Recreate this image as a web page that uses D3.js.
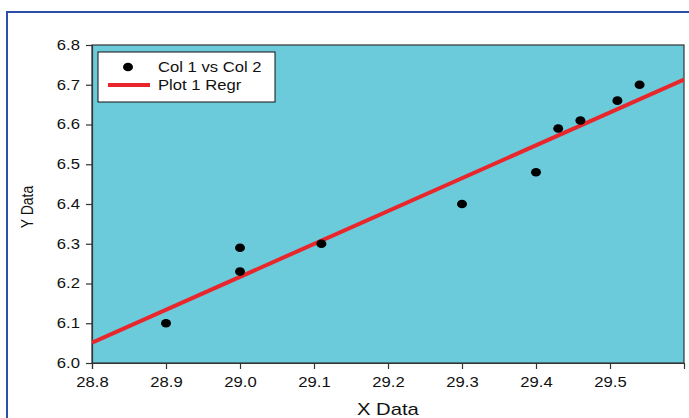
<!DOCTYPE html>
<html>
<head>
<meta charset="utf-8">
<script src="https://cdn.jsdelivr.net/npm/d3@7"></script>
<style>
  body { margin: 0; background: #fff; }
  text { font-family: "Liberation Sans", Arial, sans-serif; fill: #111; }
</style>
</head>
<body>
<div id="chart"></div>
<script>
var width = 689, height = 418;

// data
var xData = [28.9, 29.0, 29.0, 29.11, 29.3, 29.4, 29.43, 29.46, 29.51, 29.54];
var yData = [6.10, 6.29, 6.23, 6.30, 6.40, 6.48, 6.59, 6.61, 6.66, 6.70];
var xTicks = [28.8, 28.9, 29.0, 29.1, 29.2, 29.3, 29.4, 29.5];
var yTicks = [6.0, 6.1, 6.2, 6.3, 6.4, 6.5, 6.6, 6.7, 6.8];
var legendLabels = ["Col 1 vs Col 2", "Plot 1 Regr"];

var margin = { top: 45, right: 5, bottom: 55, left: 92 };
var w = width - margin.left - margin.right,
    h = height - margin.top - margin.bottom;
var stretch = 1.19; // text in the picture is a bit wider than normal

// widen a text horizontally around its own x
function widen(sel) {
  sel.each(function() {
    var t = d3.select(this);
    var x = +t.attr("x") || 0;
    t.attr("x", x / stretch).attr("transform", "scale(" + stretch + ",1)");
  });
}

var svg = d3.select("#chart").append("svg")
  .attr("width", width)
  .attr("height", height);

// outer blue frame
svg.append("rect")
  .attr("x", 7).attr("y", 12)
  .attr("width", width).attr("height", height)
  .attr("fill", "none")
  .attr("stroke", "#2d4fa8")
  .attr("stroke-width", 2);

var g = svg.append("g")
  .attr("transform", "translate(" + margin.left + "," + margin.top + ")");

var xScale = d3.scaleLinear().domain([28.8, 29.6]).range([0, w]);
var yScale = d3.scaleLinear().domain([6.0, 6.8]).range([h, 0]);

// plot background
g.append("rect")
  .attr("width", w).attr("height", h)
  .attr("fill", "#6ccbdb")
  .attr("stroke", "#333")
  .attr("stroke-width", 1.2);

g.append("clipPath").attr("id", "clip")
  .append("rect").attr("width", w).attr("height", h);

// axes
var xAxis = d3.axisBottom(xScale).tickValues(xTicks).tickSize(6).tickPadding(8)
  .tickFormat(d3.format(".1f"));
var yAxis = d3.axisLeft(yScale).tickValues(yTicks).tickSize(6).tickPadding(6)
  .tickFormat(d3.format(".1f"));

var gx = g.append("g")
  .attr("transform", "translate(0," + h + ")")
  .call(xAxis);
var gy = g.append("g").call(yAxis);

[gx, gy].forEach(function(a) {
  a.attr("font-size", 14).attr("font-family", "Liberation Sans, Arial, sans-serif");
  a.select(".domain").attr("stroke", "#333").attr("stroke-width", 1.2);
  a.selectAll(".tick line").attr("stroke", "#333").attr("stroke-width", 1.2);
  a.selectAll(".tick text").attr("fill", "#111").call(widen);
});

// axis titles
svg.append("text")
  .attr("x", 357).attr("y", 415)
  .style("font-size", "17px")
  .call(widen)
  .text("X Data");

svg.append("text")
  .attr("transform", "translate(33,207) scale(" + stretch + ",1) rotate(-90)")
  .attr("text-anchor", "middle")
  .style("font-size", "14px")
  .text("Y Data");

// regression line (least squares)
var pts = xData.map(function(x, i) { return { x: x, y: yData[i] }; });
var mx = d3.mean(xData), my = d3.mean(yData);
var slope = d3.sum(pts, function(d) { return (d.x - mx) * (d.y - my); }) /
            d3.sum(pts, function(d) { return (d.x - mx) * (d.x - mx); });
var icpt = my - slope * mx;
var regr = xScale.domain().map(function(x) { return { x: x, y: icpt + slope * x }; });

var line = d3.line()
  .x(function(d) { return xScale(d.x); })
  .y(function(d) { return yScale(d.y); });

g.append("path")
  .datum(regr)
  .attr("clip-path", "url(#clip)")
  .attr("d", line)
  .attr("fill", "none")
  .attr("stroke", "#e8262b")
  .attr("stroke-width", 4);

// points
g.selectAll(".dot")
  .data(pts)
  .enter().append("ellipse")
  .attr("class", "dot")
  .attr("cx", function(d) { return xScale(d.x); })
  .attr("cy", function(d) { return yScale(d.y); })
  .attr("rx", 5)
  .attr("ry", 4.3)
  .attr("fill", "#000");

// legend
var lg = svg.append("g").attr("transform", "translate(98,52)");
lg.append("rect")
  .attr("width", 177).attr("height", 50)
  .attr("fill", "#fff")
  .attr("stroke", "#111")
  .attr("stroke-width", 1);
lg.append("ellipse")
  .attr("cx", 30).attr("cy", 15).attr("rx", 5).attr("ry", 4.3)
  .attr("fill", "#000");
lg.append("line")
  .attr("x1", 10).attr("x2", 52).attr("y1", 33).attr("y2", 33)
  .attr("stroke", "#e8262b").attr("stroke-width", 4);
lg.selectAll(".ltext")
  .data(legendLabels)
  .enter().append("text")
  .attr("class", "ltext")
  .attr("x", 60)
  .attr("y", function(d, i) { return 15 + i * 18; })
  .attr("dy", "0.35em")
  .style("font-size", "14px")
  .call(widen)
  .text(function(d) { return d; });
</script>
</body>
</html>
